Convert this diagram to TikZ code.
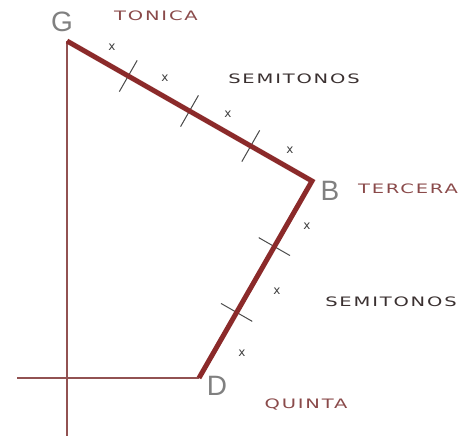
\documentclass[tikz,border=0pt]{standalone}
\usepackage{fontspec}
\setmainfont{DejaVu Sans}
\usetikzlibrary{calc}
\newfontfamily\widefont[FakeStretch=1.5,LetterSpace=14]{DejaVu Sans}
\newfontfamily\notefont{Liberation Sans}
\definecolor{chordred}{HTML}{8b2a2a}
\definecolor{axisred}{HTML}{925252}
\definecolor{notegray}{HTML}{808080}
\definecolor{labelred}{HTML}{8a4a4a}
\definecolor{labeldark}{HTML}{3a3030}

\begin{document}
\begin{tikzpicture}[x=1pt, y=-1pt,
  notename/.style={font=\notefont\fontsize{28}{28}\selectfont, text=notegray, inner sep=0pt},
  degree/.style={font=\widefont\fontsize{13}{13}\selectfont, text=labelred, inner sep=0pt},
  semis/.style={font=\widefont\fontsize{13}{13}\selectfont, text=labeldark, inner sep=0pt},
  cross/.style={font=\fontsize{12}{12}\selectfont, text=black!75, inner sep=0pt},
  semitick/.style={line width=1pt, black!70},
  chord/.style={line width=5pt, chordred, line join=miter},
  axis/.style={line width=1.5pt, axisred}]
  \useasboundingbox (0,0) rectangle (474,444);

  % corners of the triad
  \coordinate (G) at (67,41);
  \coordinate (B) at (312,181);
  \coordinate (D) at (199,378);
  \coordinate (axisbottom) at (67,436);
  \coordinate (axisleft) at (17,378);

  % axes
  \draw[axis] (G) -- (axisbottom);
  \draw[axis] (axisleft) -- (D);

  % semitone marks
  \foreach \t in {0.25,0.5,0.75}
    \draw[semitick] ($(G)!\t!(B)!18pt!90:(B)$) -- ($(G)!\t!(B)!18pt!-90:(B)$);
  \foreach \t in {0.333,0.667}
    \draw[semitick] ($(B)!\t!(D)!18pt!90:(D)$) -- ($(B)!\t!(D)!18pt!-90:(D)$);

  % the chord path
  \draw[chord] (G) -- (B) -- (D);

  % crosses
  \foreach \p/\q [count=\i] in {112/47, 165/78, 228/114, 290/150, 307/226, 277/291, 242/353}
    \node[cross] (x\i) at (\p,\q) {x};

  % note letters
  \node[notename] (Gname) at (62,22) {G};
  \node[notename] (Bname) at (330,191) {B};
  \node[notename] (Dname) at (217,386) {D};

  % degree labels
  \node[degree] (tonica) at (156,16) {TONICA};
  \node[semis] (semiup) at (294,79) {SEMITONOS};
  \node[degree] (tercera) at (408,189) {TERCERA};
  \node[semis] (semidown) at (391,302) {SEMITONOS};
  \node[degree] (quinta) at (306,405) {QUINTA};
\end{tikzpicture}
\end{document}
